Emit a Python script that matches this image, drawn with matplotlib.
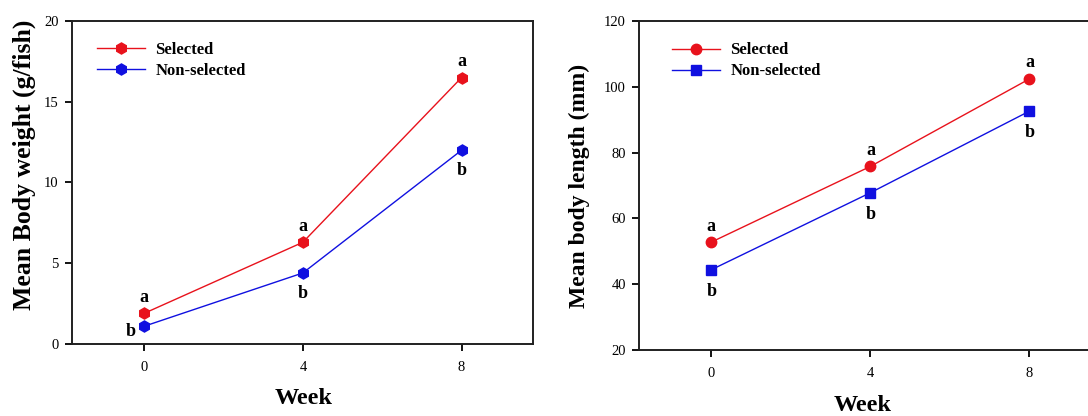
import matplotlib
matplotlib.use("Agg")
import matplotlib.pyplot as plt

plt.rcParams['font.family'] = ['Liberation Serif', 'DejaVu Serif']

weeks = [0, 4, 8]
week_ticks = [0, 4, 8]

weight_selected = [1.9, 6.3, 16.5]
weight_nonselected = [1.1, 4.4, 12.0]
weight_sel_letters = ['a', 'a', 'a']
weight_non_letters = ['b', 'b', 'b']

length_selected = [52.8, 75.8, 102.4]
length_nonselected = [44.4, 67.8, 92.6]
length_sel_letters = ['a', 'a', 'a']
length_non_letters = ['b', 'b', 'b']

series_names = ['Selected', 'Non-selected']
RED = '#e8121c'
BLUE = '#1010e0'

W, H = 1088, 416
fig = plt.figure(figsize=(W / 100, H / 100), dpi=100)


def px_axes(left, top, right, bottom):
    return fig.add_axes([left / W, 1 - bottom / H, (right - left) / W, (bottom - top) / H])


def style_axes(ax, ylim, yticks):
    ax.set_xlim(-1.82, 9.8)
    ax.set_ylim(*ylim)
    ax.set_xticks(week_ticks)
    ax.set_yticks(yticks)
    ax.tick_params(axis='x', direction='out', length=5, width=1.3, pad=7, labelsize=10.5)
    ax.tick_params(axis='y', direction='out', length=5, width=1.3, pad=4.5, labelsize=10.5)
    for s in ax.spines.values():
        s.set_linewidth(1.4)
        s.set_color('#202020')


def letter(ax, text, x, y, dx, dy):
    ax.annotate(text, (x, y), xytext=(dx, dy), textcoords='offset points',
                ha='center', va='center', fontsize=13, fontweight='bold')


LEG = dict(loc='upper left', frameon=False, prop={'weight': 'bold', 'size': 12},
           handlelength=2.9, handletextpad=0.6, labelspacing=0.3, borderaxespad=0)

# Body weight panel
ax1 = px_axes(72, 21, 533, 344)
ax1.plot(weeks, weight_selected, color=RED, lw=1.0, marker='h', ms=8,
         mec=RED, mfc=RED, label=series_names[0])
ax1.plot(weeks, weight_nonselected, color=BLUE, lw=1.0, marker='h', ms=8,
         mec=BLUE, mfc=BLUE, label=series_names[1])
style_axes(ax1, (0, 20), [0, 5, 10, 15, 20])
for i, (x, y) in enumerate(zip(weeks, weight_selected)):
    letter(ax1, weight_sel_letters[i], x, y, 0, 11.5)
for i, (x, y) in enumerate(zip(weeks, weight_nonselected)):
    if i == 0:
        letter(ax1, weight_non_letters[i], x, y, -9.5, -4)
    else:
        letter(ax1, weight_non_letters[i], x, y, 0, -14.5)
ax1.set_ylabel('Mean Body weight (g/fish)', fontsize=18.5, fontweight='bold')
ax1.yaxis.set_label_coords(-0.078, 0.554)
ax1.set_xlabel('Week', fontsize=17.5, fontweight='bold')
ax1.xaxis.set_label_coords(0.503, -0.136)
ax1.legend(bbox_to_anchor=(0.04, 0.955), **LEG)

# Body length panel
ax2 = px_axes(639, 21, 1101, 350)
ax2.plot(weeks, length_selected, color=RED, lw=1.0, marker='o', ms=7.5,
         mec=RED, mfc=RED, label=series_names[0])
ax2.plot(weeks, length_nonselected, color=BLUE, lw=1.0, marker='s', ms=7.5,
         mec=BLUE, mfc=BLUE, label=series_names[1])
style_axes(ax2, (20, 120), [20, 40, 60, 80, 100, 120])
for i, (x, y) in enumerate(zip(weeks, length_selected)):
    letter(ax2, length_sel_letters[i], x, y, 0, 11.5)
for i, (x, y) in enumerate(zip(weeks, length_nonselected)):
    letter(ax2, length_non_letters[i], x, y, 0, -15.5)
ax2.set_ylabel('Mean body length (mm)', fontsize=17, fontweight='bold')
ax2.yaxis.set_label_coords(-0.106, 0.5)
ax2.set_xlabel('Week', fontsize=17.5, fontweight='bold')
ax2.xaxis.set_label_coords(0.484, -0.138)
ax2.legend(bbox_to_anchor=(0.057, 0.955), **LEG)

fig.savefig('out.png', dpi=100)
